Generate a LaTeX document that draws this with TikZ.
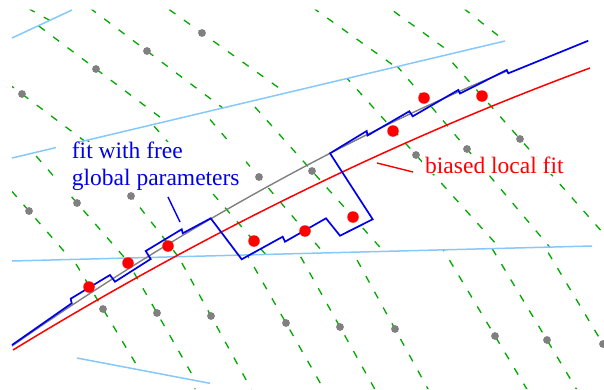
\documentclass[tikz,border=0pt]{standalone}
\usepackage{fontspec}
\setmainfont{Liberation Serif}
\definecolor{cGreen}{RGB}{0,168,0}
\definecolor{cSky}{RGB}{135,200,250}
\definecolor{cRed}{RGB}{255,0,0}
\definecolor{cBlue}{RGB}{0,0,235}
\definecolor{cGray}{RGB}{128,128,128}
\begin{document}
\begin{tikzpicture}[x=1pt,y=-1pt,
  greenline/.style={draw=cGreen, line width=1.3pt, dash pattern=on 7.5pt off 10.5pt},
  boundary/.style={draw=cSky, line width=1.5pt},
  graydot/.style={circle, fill=cGray, inner sep=0pt, minimum size=7.8pt},
  reddot/.style={circle, fill=cRed, inner sep=0pt, minimum size=11.5pt},
  trackred/.style={draw=cRed, line width=1.5pt},
  trackgray/.style={draw=cGray, line width=1.4pt},
  trackblue/.style={draw=cBlue, line width=1.7pt, line join=miter},
  lbl/.style={font=\fontsize{23.5}{27}\selectfont, inner sep=0pt}]
\useasboundingbox (0,0) rectangle (604,389);

% ---- strip lines, region by region ----
\begin{scope}
  \clip (12,9.5) -- (73,9.5) -- (12,38) -- cycle;
  \foreach \ax/\ay/\s in {40/15/1.8}
    \draw[greenline] ({\ax-400*\s},{\ay-400}) -- ({\ax+400*\s},{\ay+400});
\end{scope}
\begin{scope}
  \clip (12,38) -- (73,9.5) -- (604,9.5) -- (604,17.5) -- (12,158) -- cycle;
  \foreach \ax/\ay/\s in {22/94/1.33, 96/69/1.33, 147/51/1.33, 202/33/1.4,
                          316/10/1.4, 392/10/1.38, 505/41/1.27}
    \draw[greenline] ({\ax-400*\s},{\ay-400}) -- ({\ax+400*\s},{\ay+400});
\end{scope}
\begin{scope}
  \clip (12,158) -- (604,17.5) -- (604,245.7) -- (12,261) -- cycle;
  \foreach \ax/\ay/\s in {29/211/0.87, 77/203/0.87, 131/196/0.78, 254/241/0.87,
                          259/177/0.852, 312/171/0.891, 416/155/0.9,
                          467/149/0.843, 520/139/0.884}
    \draw[greenline] ({\ax-400*\s},{\ay-400}) -- ({\ax+400*\s},{\ay+400});
\end{scope}
\begin{scope}
  \clip (12,261) -- (604,245.7) -- (604,389) -- (242.3,389) -- (12,345.8) -- cycle;
  \foreach \ax/\ay/\s in {103/309/0.6, 157/313/0.57, 211/316/0.55, 286/323/0.57,
                          340/327/0.56, 395/329/0.55, 495/336/0.6, 547/340/0.6,
                          603/344/0.6}
    \draw[greenline] ({\ax-400*\s},{\ay-400}) -- ({\ax+400*\s},{\ay+400});
\end{scope}
\begin{scope}
  \clip (12,345.8) -- (242.3,389) -- (12,389) -- cycle;
  \foreach \ax/\ay/\s in {190/378/0.45}
    \draw[greenline] ({\ax-400*\s},{\ay-400}) -- ({\ax+400*\s},{\ay+400});
\end{scope}

% ---- sensor boundaries ----
\coordinate (b1a) at (12,38);   \coordinate (b1b) at (72,10);
\coordinate (b2a) at (12,158);  \coordinate (b2b) at (505,41);
\coordinate (b3a) at (12,261);  \coordinate (b3b) at (592,246);
\coordinate (b4a) at (77,358);  \coordinate (b4b) at (210,383.3);
\draw[boundary] (b1a) -- (b1b);
\draw[boundary] (b2a) -- (b2b);
\draw[boundary] (b3a) -- (b3b);
\draw[boundary] (b4a) -- (b4b);

% ---- label backgrounds ----
\fill[white] (56,142) rectangle (246,193);

% ---- tracks ----
\draw[trackgray] (12,346) .. controls (176.9,231.1) and (341.9,139.5) .. (507,71);
\draw[trackred] (13,350) .. controls (205.3,232.4) and (397.6,139.1) .. (590,68);
\draw[trackblue] (12,345) -- (71.7,303.3) -- (70.7,298.7) -- (110,275) -- (115,281.7)
  -- (150.7,259) -- (145.7,251) -- (181.7,229.3) -- (182.7,233.3) -- (210.7,218.3)
  -- (241.7,259.3) -- (282.7,236.7) -- (285,241.7) -- (326,218.3) -- (340,235.7)
  -- (372.7,219.3) -- (330,153.3) -- (366.7,131) -- (367.5,135.5) -- (409.3,111.3)
  -- (412.7,116.3) -- (458.3,90) -- (460,93.5) -- (506.7,70) -- (508.3,73.3)
  -- (588.3,40.7);

% ---- labels ----
\node[lbl, text=cBlue, anchor=base west] (fitA) at (71.7,158) {fit with free};
\node[lbl, text=cBlue, anchor=base west] (fitB) at (71.7,185) {global parameters};
\node[lbl, text=cRed, anchor=base west, fill=white, inner xsep=3pt] (bias) at (422,173.3) {biased local fit};
\coordinate (pa1) at (168,197);  \coordinate (pa2) at (180,222);
\coordinate (pb1) at (377,163);  \coordinate (pb2) at (413,172);
\draw[draw=cBlue, line width=1.4pt] (pa1) -- (pa2);
\draw[draw=cRed, line width=1.4pt] (pb1) -- (pb2);

% ---- hits ----
\foreach \x/\y [count=\i] in {202/33, 147/51, 96/69, 22/94, 29/211, 77/203, 131/196,
   259/177, 312/171, 416/155, 467/149, 520/139, 103/309, 157/313, 211/316,
   286/323, 340/327, 395/329, 495/336, 547/340, 603/344}
  \node[graydot] (g\i) at (\x,\y) {};
\foreach \x/\y [count=\i] in {89/287, 128/263, 168/246, 254/241, 305/231, 353/217,
   393/131, 424/98, 482/96}
  \node[reddot] (r\i) at (\x,\y) {};
\end{tikzpicture}
\end{document}
